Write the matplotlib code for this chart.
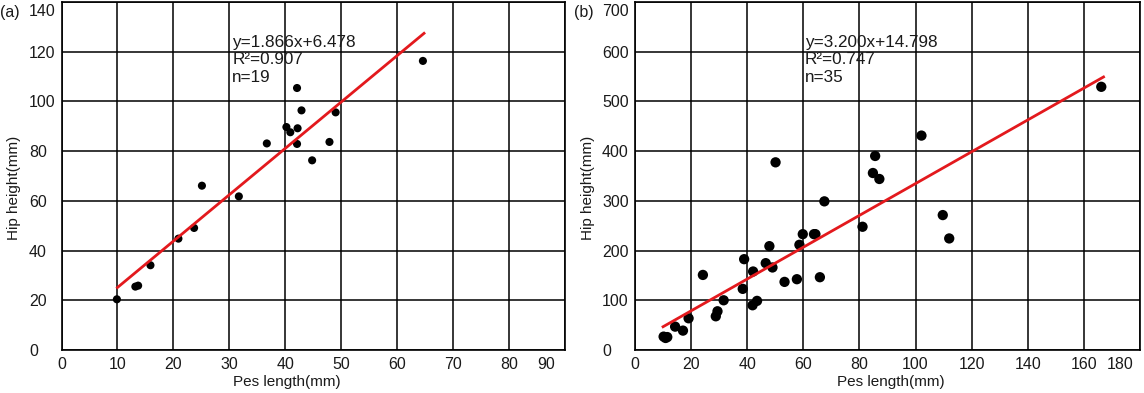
import matplotlib
matplotlib.use("Agg")
import matplotlib.pyplot as plt
import numpy as np

plt.rcParams['font.family'] = ['Liberation Sans', 'DejaVu Sans']

# Panel (a)
pes_a = [9.9, 13.2, 13.7, 15.9, 20.9, 23.7, 25.1, 31.7, 36.7, 40.2, 40.9, 42.1,
         42.2, 42.1, 42.9, 44.8, 47.9, 49.0, 64.6]
hip_a = [20.4, 25.5, 25.9, 34.1, 44.8, 49.1, 66.1, 61.8, 83.1, 89.7, 87.6, 105.4,
         89.2, 82.9, 96.4, 76.3, 83.7, 95.6, 116.3]
slope_a, icpt_a = 1.866, 6.478
fit_range_a = [10, 64.8]
text_a = "y=1.866x+6.478\nR²=0.907\nn=19"
xticks_a = [0, 10, 20, 30, 40, 50, 60, 70, 80, 90]
yticks_a = [0, 20, 40, 60, 80, 100, 120, 140]

# Panel (b)
pes_b = [10.2, 10.9, 11.5, 14.3, 17.1, 19.1, 24.2, 28.8, 29.4, 31.6, 38.4, 38.9,
         41.9, 42.1, 43.5, 46.6, 47.9, 49.0, 50.1, 53.3, 57.7, 58.6, 59.8, 63.8,
         64.3, 65.9, 67.5, 81.1, 84.8, 85.6, 87.1, 102.1, 109.7, 112.0, 166.2]
hip_b = [26.9, 24.2, 26.0, 47.0, 39.0, 63.8, 151.0, 67.8, 77.9, 100.0, 123.0, 182.7,
         90.0, 157.9, 98.8, 174.7, 208.9, 166.0, 377.5, 137.0, 142.4, 211.6, 233.0, 233.0,
         233.0, 146.4, 299.0, 247.9, 356.0, 390.3, 344.0, 431.3, 271.4, 224.4, 529.4]
slope_b, icpt_b = 3.200, 14.798
fit_range_b = [10, 167]
text_b = "y=3.200x+14.798\nR²=0.747\nn=35"
xticks_b = [0, 20, 40, 60, 80, 100, 120, 140, 160, 180]
yticks_b = [0, 100, 200, 300, 400, 500, 600, 700]

W, H = 1144, 393
fig = plt.figure(figsize=(W / 100, H / 100), dpi=100)

def px_axes(x0, x1, y0, y1):
    return fig.add_axes([x0 / W, 1 - y1 / H, (x1 - x0) / W, (y1 - y0) / H])

ax_a = px_axes(61.5, 565, 2, 350)
ax_b = px_axes(635, 1140, 2, 350)

TFS = 11.5   # tick labels
LFS = 11     # axis labels
AFS = 12.3   # annotation
TXT = '#1a1a1a'
RED = '#e3191d'

def style(ax, xt, yt, ylab_pad_px, xlabel_center, last_x_shift_px, top_y_shift_px):
    ax.set_xlim(xt[0], xt[-1])
    ax.set_ylim(yt[0], yt[-1])
    ax.set_xticks(xt)
    ax.set_yticks(yt)
    ax.set_xticklabels([str(v) for v in xt[:-1]] + [''])
    ax.set_yticklabels([str(v) for v in yt[:-1]] + [''])
    ax.grid(True, color='black', linewidth=1.1)
    ax.set_axisbelow(True)
    for s in ax.spines.values():
        s.set_linewidth(1.2)
        s.set_color('black')
    ax.tick_params(length=0, labelsize=TFS, colors=TXT)
    ax.tick_params(axis='x', pad=5)
    ax.tick_params(axis='y', pad=ylab_pad_px * 0.72)
    for lab in ax.get_yticklabels():
        lab.set_horizontalalignment('left')
    # last x tick label shifted left, top y tick label shifted down
    ax.annotate(str(xt[-1]), xy=(xt[-1], 0), xycoords=('data', 'axes fraction'),
                xytext=(last_x_shift_px * 0.72, -5), textcoords='offset points',
                ha='center', va='top', fontsize=TFS, color=TXT)
    ax.annotate(str(yt[-1]), xy=(0, yt[-1]), xycoords=('axes fraction', 'data'),
                xytext=(-ylab_pad_px * 0.72, -top_y_shift_px * 0.72), textcoords='offset points',
                ha='left', va='center', fontsize=TFS, color=TXT)
    ax.set_xlabel('Pes length(mm)', fontsize=LFS, color=TXT, va='center')
    ax.set_ylabel('Hip height(mm)', fontsize=LFS, color=TXT, va='center')
    ax.xaxis.set_label_coords(xlabel_center, -0.092)
    ax.yaxis.set_label_coords(-0.094, 0.466)

style(ax_a, xticks_a, yticks_a, 32.5, (287 - 61.5) / 503.5, -19, 10)
style(ax_b, xticks_b, yticks_b, 33, (891 - 635) / 505, -20, 10)

ax_a.scatter(pes_a, hip_a, s=34, color='black', zorder=3, edgecolors='none')
xa = np.array(fit_range_a)
ax_a.plot(xa, slope_a * xa + icpt_a, color=RED, linewidth=2.0, zorder=4)
ax_a.text(30.5, 126.6, text_a, fontsize=AFS, va='top', ha='left',
          linespacing=1.18, color=TXT)

ax_b.scatter(pes_b, hip_b, s=55, color='black', zorder=3, edgecolors='none')
xb = np.array(fit_range_b)
ax_b.plot(xb, slope_b * xb + icpt_b, color=RED, linewidth=2.0, zorder=4)
ax_b.text(60.5, 633, text_b, fontsize=AFS, va='top', ha='left',
          linespacing=1.18, color=TXT)

fig.text(0 / W, 1 - 12 / H, '(a)', fontsize=TFS, va='center', ha='left', color=TXT)
fig.text(574 / W, 1 - 12 / H, '(b)', fontsize=TFS, va='center', ha='left', color=TXT)

fig.savefig('out.png', dpi=100)
